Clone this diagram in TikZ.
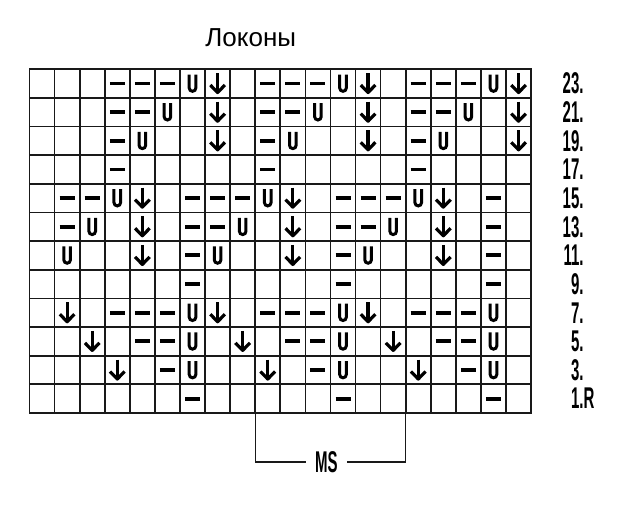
\documentclass[tikz,border=0pt]{standalone}
\usepackage{fontspec}
\setmainfont{Liberation Sans}
\newfontfamily\narrowfont[FakeStretch=0.5]{Liberation Sans Bold}

\begin{document}
\begin{tikzpicture}[x=25.08pt,y=28.65pt]

	\tikzset{gridline/.style = {line width=1.7pt, black!90}}
	\tikzset{bracket/.style = {line width=1.4pt, black!90}}
	\tikzset{stitch/.style = {black, line cap=butt}}
	\tikzset{rowlabel/.style = {font=\narrowfont\fontsize{30}{30}\selectfont, anchor=east, inner sep=0pt}}
	\tikzset{
		symo/.pic = {},
		symm/.pic = {\draw[stitch, line width=3.9pt] (-7.5pt,0pt) -- (7.5pt,0pt);},
		symu/.pic = {\draw[stitch, line width=3pt] (-3.3pt,9pt) -- (-3.3pt,-4.5pt) arc (180:360:3.3pt) -- (3.3pt,9pt);},
		symd/.pic = {\draw[stitch, line width=3.2pt] (0pt,10.5pt) -- (0pt,-8.5pt);
			\draw[stitch, line width=3.2pt, line join=round] (-7.3pt,-1.5pt) -- (0pt,-9pt) -- (7.3pt,-1.5pt);}
	}
	\useasboundingbox (-29.5pt,-103pt) rectangle (590.5pt,413pt);

	% title
	\node[font=\fontsize{26}{26}\selectfont, anchor=base] (title) at (8.82,12.79) {Локоны};

	% grid
	\foreach \i in {0,...,20} \draw[gridline] (\i,0) -- (\i,12);
	\foreach \j in {0,...,12} \draw[gridline] (0,\j) -- (20,\j);
	\draw[gridline] (0,0) rectangle (20,12);

	% stitches, row 1 at the bottom
	\foreach \stitches [count=\r] in {
		{o,o,o,o,o,o,m,o,o,o,o,o,m,o,o,o,o,o,m,o},
		{o,o,o,d,o,m,u,o,o,d,o,m,u,o,o,d,o,m,u,o},
		{o,o,d,o,m,m,u,o,d,o,m,m,u,o,d,o,m,m,u,o},
		{o,d,o,m,m,m,u,d,o,m,m,m,u,d,o,m,m,m,u,o},
		{o,o,o,o,o,o,m,o,o,o,o,o,m,o,o,o,o,o,m,o},
		{o,u,o,o,d,o,m,u,o,o,d,o,m,u,o,o,d,o,m,o},
		{o,m,u,o,d,o,m,m,u,o,d,o,m,m,u,o,d,o,m,o},
		{o,m,m,u,d,o,m,m,m,u,d,o,m,m,m,u,d,o,m,o},
		{o,o,o,m,o,o,o,o,o,m,o,o,o,o,o,m,o,o,o,o},
		{o,o,o,m,u,o,o,d,o,m,u,o,o,d,o,m,u,o,o,d},
		{o,o,o,m,m,u,o,d,o,m,m,u,o,d,o,m,m,u,o,d},
		{o,o,o,m,m,m,u,d,o,m,m,m,u,d,o,m,m,m,u,d}}{
		\foreach \s [count=\c] in \stitches
			\pic at (\c-0.5,\r-0.5) {sym\s};
	}

	% row numbers
	\foreach \lab [count=\r] in {1.\rlap{R},3.,5.,7.,9.,11.,13.,15.,17.,19.,21.,23.}
		\node[rowlabel] (row\r) at (22.1,\r-0.5) {\lab};

	% pattern repeat
	\coordinate (msleft) at (9,0);
	\coordinate (msright) at (15,0);
	\node[rowlabel, anchor=center, inner xsep=9pt] (ms) at (11.84,-1.71) {MS};
	\draw[bracket] (msleft) |- (ms.west);
	\draw[bracket] (msright) |- (ms.east);
\end{tikzpicture}
\end{document}
